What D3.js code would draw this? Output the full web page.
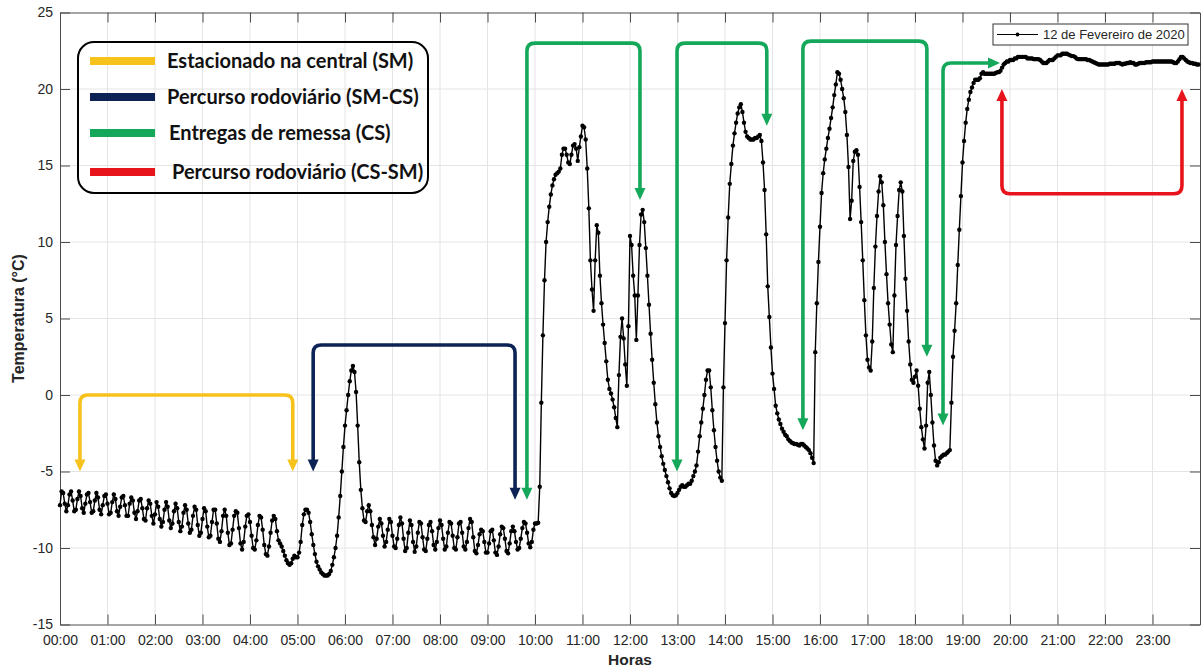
<!DOCTYPE html>
<html>
<head>
<meta charset="utf-8">
<title>Temperatura - 12 de Fevereiro de 2020</title>
<script src="https://d3js.org/d3.v7.min.js"></script>
<style>
  * { margin: 0; padding: 0; }
  body { background: #fff; }
  #grafico { width: 1202px; height: 670px; }
</style>
</head>
<body>
<div id="grafico"></div>
<script>
// leituras de temperatura (°C), uma a cada 2 minutos, uma linha por hora
const h00 = [-7.2,-6.3,-6.4,-7.1,-7.6,-7.2,-6.5,-6.3,-6.9,-7.6,-7.5,-6.8,-6.3,-6.6,-7.4,-7.7,-7.1,-6.5,-6.4,-7.0,-7.7,-7.6,-6.9,-6.4,-6.7,-7.5,-7.8,-7.2,-6.6,-6.5];
const h01 = [-7.1,-7.8,-7.7,-7.0,-6.5,-6.8,-7.6,-7.9,-7.3,-6.7,-6.6,-7.2,-7.9,-7.9,-7.1,-6.7,-6.9,-7.7,-8.1,-7.6,-6.9,-6.8,-7.4,-8.1,-8.2,-7.4,-6.9,-7.1,-7.9,-8.4];
const h02 = [-7.8,-7.0,-7.3,-8.1,-8.6,-8.3,-7.5,-7.0,-7.3,-8.2,-8.7,-8.4,-7.6,-7.1,-7.4,-8.3,-8.9,-8.6,-7.7,-7.2,-7.5,-8.4,-9.0,-8.8,-7.9,-7.3,-7.5,-8.5,-9.2,-9.0];
const h03 = [-8.1,-7.4,-7.6,-8.6,-9.3,-9.2,-8.3,-7.5,-7.5,-8.4,-9.4,-9.6,-8.9,-7.9,-7.5,-7.9,-9.0,-9.8,-9.7,-8.8,-7.9,-7.6,-7.7,-8.7,-9.7,-10.1,-9.6,-8.6,-7.9,-7.8];
const h04 = [-8.3,-9.2,-10.0,-10.1,-9.5,-8.5,-7.9,-8.0,-8.8,-9.8,-10.4,-10.5,-9.9,-9.0,-8.2,-7.9,-8.1,-8.9,-9.5,-9.7,-9.9,-10.2,-10.5,-10.8,-11.0,-11.1,-11.0,-10.7,-10.5,-10.6];
const h05 = [-10.6,-10.3,-9.6,-8.5,-7.8,-7.5,-7.5,-7.7,-8.3,-9.1,-9.8,-10.4,-10.9,-11.2,-11.4,-11.6,-11.7,-11.8,-11.8,-11.8,-11.7,-11.5,-11.1,-10.6,-10.0,-9.2,-8.0,-6.6,-5.0,-3.4];
const h06 = [-2.0,-1.0,0.0,0.9,1.6,1.9,1.5,0.2,-2.0,-4.4,-6.2,-7.4,-8.2,-8.3,-7.6,-7.2,-7.6,-8.5,-9.3,-9.8,-9.4,-8.6,-8.1,-8.4,-9.2,-9.9,-9.6,-8.8,-8.1,-8.3];
const h07 = [-9.2,-9.9,-10.0,-9.4,-8.5,-8.0,-8.4,-9.4,-10.2,-10.0,-9.0,-8.2,-8.5,-9.6,-10.25,-9.9,-9.0,-8.3,-8.4,-9.3,-10.1,-10.2,-9.4,-8.5,-8.3,-8.9,-9.8,-10.1,-9.6,-8.7];
const h08 = [-8.2,-8.5,-9.4,-10.1,-9.9,-9.0,-8.3,-8.4,-9.2,-10.0,-10.1,-9.3,-8.4,-8.3,-9.0,-9.9,-10.1,-9.6,-8.7,-8.1,-8.3,-9.3,-10.2,-10.35,-9.8,-9.1,-8.8,-8.9,-9.6,-10.3];
const h09 = [-10.3,-9.7,-8.9,-8.8,-9.5,-10.3,-10.45,-9.9,-9.1,-8.6,-8.7,-9.4,-10.2,-10.35,-9.7,-8.9,-8.6,-8.9,-9.6,-10.1,-10.0,-9.4,-8.7,-8.3,-8.4,-9.0,-9.7,-9.95,-9.6,-8.8];
const h10 = [-8.4,-8.4,-8.35,-6.0,-0.5,3.9,7.5,10.0,11.3,12.3,13.1,13.7,14.1,14.4,14.5,14.6,14.8,15.7,16.1,16.1,15.7,15.2,15.1,15.7,16.3,16.4,16.1,15.3,16.2,16.9];
const h11 = [17.6,17.5,16.7,14.8,12.2,8.8,6.9,5.5,8.8,11.1,10.6,7.8,6.0,4.6,3.4,2.2,1.0,0.4,0.1,-0.3,-0.8,-1.5,-2.1,1.3,3.8,5.0,3.7,2.0,0.6,4.5];
const h12 = [10.4,9.8,7.8,6.5,3.6,6.5,9.8,11.8,12.1,11.3,9.6,7.8,5.9,4.0,2.3,0.8,-0.6,-1.8,-2.7,-3.4,-4.0,-4.5,-4.9,-5.3,-5.7,-6.1,-6.4,-6.55,-6.6,-6.55];
const h13 = [-6.4,-6.2,-6.0,-5.9,-6.0,-6.0,-5.9,-5.8,-5.8,-5.6,-5.3,-5.0,-4.6,-3.7,-2.7,-1.8,-0.9,0.0,1.0,1.6,1.6,0.5,-1.0,-2.3,-3.4,-4.3,-5.0,-5.4,-5.6,0.5];
const h14 = [4.7,8.8,11.6,13.8,15.1,16.3,17.1,17.8,18.4,18.8,19.0,18.5,17.8,17.2,16.9,16.8,16.7,16.7,16.7,16.8,16.8,16.9,17.0,16.6,15.2,13.4,10.5,7.1,5.1,3.1];
const h15 = [1.4,0.4,-0.7,-1.2,-1.6,-1.9,-2.2,-2.4,-2.6,-2.7,-2.9,-3.0,-3.1,-3.15,-3.2,-3.2,-3.25,-3.3,-3.2,-3.2,-3.3,-3.4,-3.5,-3.6,-3.8,-4.1,-4.45,2.8,6.0,8.7];
const h16 = [11.0,13.2,14.5,15.4,16.1,16.8,17.4,18.1,18.8,19.6,20.3,21.1,21.0,20.6,20.0,19.4,18.5,17.0,14.9,11.5,12.7,15.3,15.9,16.0,15.7,13.6,11.3,8.8,6.2,3.9];
const h17 = [2.3,1.8,1.6,3.5,7.0,9.7,11.7,13.3,14.3,13.9,12.4,10.0,7.9,6.0,4.6,3.3,2.8,6.5,9.8,11.7,13.4,13.9,13.3,10.4,7.6,5.5,3.5,2.0,1.0,0.8];
const h18 = [1.2,1.6,0.6,-0.9,-2.1,-2.9,-3.5,-2.0,0.8,1.5,0.0,-1.8,-3.3,-4.3,-4.6,-4.4,-4.1,-4.0,-3.9,-3.9,-3.8,-3.7,-3.6,-0.5,2.5,4.2,6.0,8.5,10.8,13.0];
const h19 = [15.2,16.6,17.8,18.7,19.3,19.8,20.1,20.4,20.6,20.6,20.6,20.7,21.0,21.1,21.0,21.0,21.0,21.0,21.0,21.0,21.0,21.05,21.1,21.1,21.2,21.4,21.6,21.7,21.8,21.8];
const h20 = [21.9,21.9,21.9,22.0,22.0,22.1,22.1,22.1,22.1,22.1,22.1,22.0,22.0,22.0,22.0,21.95,21.95,21.95,21.95,21.9,21.8,21.7,21.7,21.7,21.8,21.9,21.9,21.9,22.0,22.1];
const h21 = [22.2,22.2,22.2,22.3,22.3,22.3,22.3,22.25,22.2,22.15,22.15,22.1,22.0,21.95,21.95,21.95,21.95,21.95,21.95,21.9,21.9,21.85,21.8,21.75,21.7,21.65,21.6,21.6,21.6,21.6];
const h22 = [21.6,21.6,21.6,21.65,21.65,21.65,21.65,21.7,21.7,21.7,21.65,21.6,21.65,21.65,21.7,21.7,21.75,21.7,21.7,21.6,21.6,21.65,21.7,21.7,21.7,21.7,21.75,21.75,21.75,21.75];
const h23 = [21.8,21.8,21.8,21.8,21.8,21.8,21.8,21.8,21.8,21.8,21.8,21.8,21.8,21.75,21.7,21.7,21.8,21.95,22.1,22.1,22.0,21.9,21.8,21.75,21.7,21.7,21.65,21.65,21.6,21.6];

const passoMin = 2;
const serieNome = "12 de Fevereiro de 2020";

const horaTicks = [0,1,2,3,4,5,6,7,8,9,10,11,12,13,14,15,16,17,18,19,20,21,22,23];
const horaLabels = ["00:00","01:00","02:00","03:00","04:00","05:00","06:00","07:00","08:00","09:00","10:00","11:00",
                    "12:00","13:00","14:00","15:00","16:00","17:00","18:00","19:00","20:00","21:00","22:00","23:00"];
const tempTicks = [-15,-10,-5,0,5,10,15,20,25];
const tempLabels = ["-15","-10","-5","0","5","10","15","20","25"];

const legendaTexto = ["Estacionado na central (SM)", "Percurso rodoviário (SM-CS)",
                      "Entregas de remessa (CS)", "Percurso rodoviário (CS-SM)"];
const legendaCor = ["#f7c21c", "#0d2356", "#15a85b", "#e8141c"];

// setas de trajeto: inicio/fim (h), nivel da barra e pontas (°C); null = ponta horizontal
const setaInicio   = [0.42, 5.33, 9.83, 12.99, 15.64, 18.59, 19.83];
const setaFim      = [4.90, 9.58, 12.21, 14.88, 18.25, 19.79, 23.62];
const setaBarra    = [0.0, 3.27, 23.0, 23.0, 23.13, 21.7, 13.15];
const setaPontaIni = [-5.0, -5.0, -6.85, -5.0, -2.3, -2.0, 20.0];
const setaPontaFim = [-5.0, -6.85, 12.75, 17.6, 2.5, null, 20.0];
const setaTipo     = [0, 1, 2, 2, 2, 2, 3];

const temperatura = [].concat(h00,h01,h02,h03,h04,h05,h06,h07,h08,h09,h10,h11,
                              h12,h13,h14,h15,h16,h17,h18,h19,h20,h21,h22,h23);
const dados = temperatura.map((v, i) => ({ h: i * passoMin / 60, v: v }));

const W = 1202, H = 670;
const margin = { top: 12.5, right: 2, bottom: 45.5, left: 60 };
const corEixo = "#4d4d4d", corTexto = "#262626";
const fonte = "'Liberation Sans', Arial, sans-serif";

const svg = d3.select("#grafico").append("svg")
    .attr("width", W).attr("height", H)
    .style("background", "#fff");

const x = d3.scaleLinear().domain([0, 24]).range([margin.left, W - margin.right]);
const y = d3.scaleLinear().domain([-15, 25]).range([H - margin.bottom, margin.top]);

// grade
svg.append("g").selectAll("line").data(horaTicks.slice(1)).join("line")
    .attr("x1", d => x(d)).attr("x2", d => x(d))
    .attr("y1", y(25)).attr("y2", y(-15))
    .attr("stroke", "#e4e4e4").attr("stroke-width", 1);
svg.append("g").selectAll("line").data(tempTicks.slice(1, -1)).join("line")
    .attr("x1", x(0)).attr("x2", x(24))
    .attr("y1", d => y(d)).attr("y2", d => y(d))
    .attr("stroke", "#e4e4e4").attr("stroke-width", 1);

// eixos (ticks para dentro, caixa completa)
function estilo(g) {
  g.select(".domain").attr("stroke", corEixo);
  g.selectAll(".tick line").attr("stroke", corEixo);
  g.selectAll(".tick text").attr("fill", corTexto).style("font-family", fonte).style("font-size", "14px");
}
svg.append("g").attr("transform", `translate(0,${y(-15)})`)
    .call(d3.axisBottom(x).tickValues(horaTicks).tickFormat((d, i) => horaLabels[i])
          .tickSizeInner(-10).tickSizeOuter(0).tickPadding(11))
    .call(estilo);
svg.append("g").attr("transform", `translate(0,${y(25)})`)
    .call(d3.axisTop(x).tickValues(horaTicks).tickFormat("").tickSizeInner(-10).tickSizeOuter(0))
    .call(estilo);
svg.append("g").attr("transform", `translate(${x(0)},0)`)
    .call(d3.axisLeft(y).tickValues(tempTicks).tickFormat((d, i) => tempLabels[i])
          .tickSizeInner(-10).tickSizeOuter(0).tickPadding(7))
    .call(estilo);
svg.append("g").attr("transform", `translate(${x(24)},0)`)
    .call(d3.axisRight(y).tickValues(tempTicks).tickFormat("").tickSizeInner(-10).tickSizeOuter(0))
    .call(estilo);

// titulos dos eixos
svg.append("text")
    .attr("transform", `translate(24,${(y(25) + y(-15)) / 2}) rotate(-90)`)
    .attr("text-anchor", "middle")
    .style("font-family", fonte).style("font-size", "16px").style("font-weight", "bold")
    .attr("fill", corTexto).text("Temperatura (°C)");
svg.append("text")
    .attr("x", (x(0) + x(24)) / 2).attr("y", 665)
    .attr("text-anchor", "middle")
    .style("font-family", fonte).style("font-size", "15.5px").style("font-weight", "bold")
    .attr("fill", corTexto).text("Horas");

// serie
const linha = d3.line().x(d => x(d.h)).y(d => y(d.v));
svg.append("path").datum(dados)
    .attr("d", linha).attr("fill", "none")
    .attr("stroke", "#000").attr("stroke-width", 1.4);
svg.append("g").selectAll("circle").data(dados).join("circle")
    .attr("cx", d => x(d.h)).attr("cy", d => y(d.v)).attr("r", 2.2)
    .attr("fill", "#000");

// setas
const raio = 8, cabeca = 12, largura = 11;
function ponta(tx, ty, dx, dy) {
  const bx = tx - dx * cabeca, by = ty - dy * cabeca;
  const ox = -dy * largura / 2, oy = dx * largura / 2;
  return `M${tx},${ty}L${bx + ox},${by + oy}L${bx - ox},${by - oy}Z`;
}
const gSetas = svg.append("g");
setaInicio.forEach((_, i) => {
  const cor = legendaCor[setaTipo[i]];
  const x0 = x(setaInicio[i]), x1 = x(setaFim[i]), yb = y(setaBarra[i]);
  const ya = y(setaPontaIni[i]);
  const s0 = Math.sign(ya - yb);
  const p = d3.path();
  p.moveTo(x0, ya - s0 * (cabeca - 1));
  p.lineTo(x0, yb + s0 * raio);
  p.quadraticCurveTo(x0, yb, x0 + raio, yb);
  const pontas = [ponta(x0, ya, 0, s0)];
  if (setaPontaFim[i] === null) {
    p.lineTo(x1 - cabeca + 1, yb);
    pontas.push(ponta(x1, yb, 1, 0));
  } else {
    const yc = y(setaPontaFim[i]);
    const s1 = Math.sign(yc - yb);
    p.lineTo(x1 - raio, yb);
    p.quadraticCurveTo(x1, yb, x1, yb + s1 * raio);
    p.lineTo(x1, yc - s1 * (cabeca - 1));
    pontas.push(ponta(x1, yc, 0, s1));
  }
  gSetas.append("path").attr("d", p.toString())
      .attr("fill", "none").attr("stroke", cor).attr("stroke-width", 3.6);
  pontas.forEach(d => gSetas.append("path").attr("d", d).attr("fill", cor));
});

// legenda das setas
const gLeg = svg.append("g");
gLeg.append("rect").attr("x", 78).attr("y", 42).attr("width", 350).attr("height", 151)
    .attr("rx", 16).attr("fill", "none").attr("stroke", "#000").attr("stroke-width", 2);
const legY = [61, 97, 133, 172];
const legX = [167, 167, 169, 172];
legendaTexto.forEach((t, i) => {
  gLeg.append("line").attr("x1", 90).attr("x2", 155).attr("y1", legY[i]).attr("y2", legY[i])
      .attr("stroke", legendaCor[i]).attr("stroke-width", 8);
  gLeg.append("text").attr("x", legX[i]).attr("y", legY[i]).attr("dy", "0.35em")
      .style("font-family", "Lato, 'Open Sans', sans-serif").style("font-size", "20px")
      .style("font-weight", "bold").attr("fill", "#111").text(t);
});

// legenda da serie
const gSerie = svg.append("g");
gSerie.append("rect").attr("x", 993).attr("y", 24).attr("width", 195).attr("height", 21)
    .attr("fill", "#fff").attr("stroke", "#333").attr("stroke-width", 1);
gSerie.append("line").attr("x1", 997).attr("x2", 1038).attr("y1", 34.5).attr("y2", 34.5)
    .attr("stroke", "#000").attr("stroke-width", 1.2);
gSerie.append("circle").attr("cx", 1017.5).attr("cy", 34.5).attr("r", 1.9).attr("fill", "#000");
gSerie.append("text").attr("x", 1043).attr("y", 34.5).attr("dy", "0.35em")
    .style("font-family", fonte).style("font-size", "13px").attr("fill", corTexto).text(serieNome);
</script>
</body>
</html>
